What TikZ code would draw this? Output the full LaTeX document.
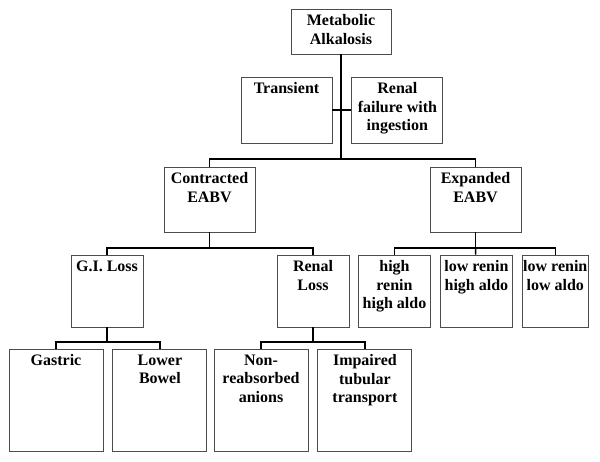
\documentclass[tikz,border=0pt]{standalone}
\usepackage{fontspec}
\setmainfont{Liberation Serif}
\usetikzlibrary{positioning}

\begin{document}
\begin{tikzpicture}[x=1pt,y=-1pt,node distance=9pt]
            \tikzstyle{box} = [draw=black!70,line width=0.9pt,inner sep=0pt]
            \tikzstyle{txt} = [anchor=north,align=center,inner sep=0pt,yshift=-6pt,
                               font=\bfseries\fontsize{16}{18.5}\selectfont]
            \tikzstyle{edge} = [line width=1.5pt]

            \useasboundingbox (0,0) rectangle (600,461);

            % first level
            \node[box,minimum width=100pt,minimum height=45pt,
                  label={[txt]north:{Metabolic\\Alkalosis}}] (top) at (341,31.5) {};
            \node[box,minimum width=91pt,minimum height=66pt,
                  label={[txt]north:Transient}] (trans) at (286.5,110) {};
            \node[box,minimum width=91pt,minimum height=66pt,
                  label={[txt]north:{Renal\\failure with\\ingestion}}] (renfail) [right=19pt of trans] {};

            % EABV
            \node[box,minimum width=91pt,minimum height=65pt,
                  label={[txt]north:{Contracted\\EABV}}] (contr) at (209.5,199.5) {};
            \node[box,minimum width=91pt,minimum height=65pt,
                  label={[txt]north:{Expanded\\EABV}}] (expand) at (475.5,199.5) {};

            % third level
            \node[box,minimum width=72pt,minimum height=72pt,
                  label={[txt]north:G.I. Loss}] (gi) at (107,291) {};
            \node[box,minimum width=72pt,minimum height=72pt,
                  label={[txt]north:{Renal\\Loss}}] (renloss) at (313,291) {};
            \node[box,minimum width=72pt,minimum height=72pt,
                  label={[txt]north:{high\\renin\\high aldo}}] (hrha) at (394.5,291) {};
            \node[box,minimum width=72pt,minimum height=72pt,
                  label={[txt]north:{low renin\\high aldo}}] (lrha) [right=of hrha] {};
            \node[box,minimum width=66pt,minimum height=72pt,
                  label={[txt]north:{low renin\\low aldo}}] (lrla) [right=of lrha] {};

            % fourth level
            \node[box,minimum width=94pt,minimum height=102pt,
                  label={[txt]north:Gastric}] (gastric) at (56,400) {};
            \node[box,minimum width=94pt,minimum height=102pt,
                  label={[txt]north:{Lower\\Bowel}}] (bowel) [right=of gastric] {};
            \node[box,minimum width=94pt,minimum height=102pt,
                  label={[txt]north:{Non-\\reabsorbed\\anions}}] (nonreab) at (261,400) {};
            \node[box,minimum width=94pt,minimum height=102pt,
                  label={[txt]north:{Impaired\\tubular\\transport}}] (impaired) [right=of nonreab] {};

            % junctions
            \coordinate (j1) at (341,159);
            \coordinate (j2) at (209.5,248);
            \coordinate (j3) at (475.5,248);
            \coordinate (j4) at (107,342);
            \coordinate (j5) at (313,342);

            \draw[edge] (top) -- (j1);
            \draw[edge] (trans) -- (renfail);
            \draw[edge] (contr) |- (j1) -| (expand);

            \draw[edge] (contr) -- (j2);
            \draw[edge] (gi) |- (j2) -| (renloss);
            \draw[edge] (expand) -- (j3);
            \draw[edge] (hrha) |- (j3) -| (lrla);
            \draw[edge] (lrha) -- (j3);

            \draw[edge] (gi) -- (j4);
            \draw[edge] (gastric) |- (j4) -| (bowel);
            \draw[edge] (renloss) -- (j5);
            \draw[edge] (nonreab) |- (j5) -| (impaired);
        \end{tikzpicture}
\end{document}
